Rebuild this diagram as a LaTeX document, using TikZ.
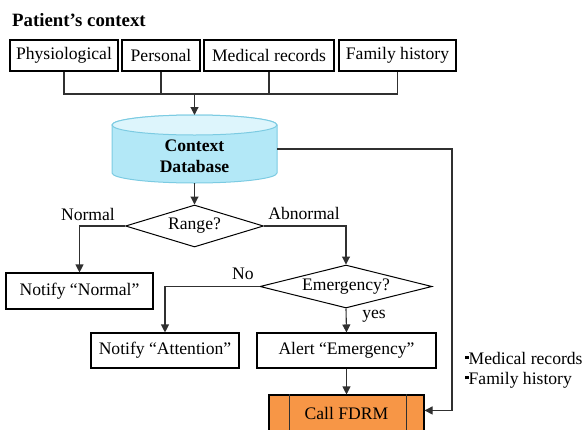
\documentclass[tikz,border=0pt]{standalone}
\usepackage{fontspec}
\setmainfont{Liberation Serif}
\usetikzlibrary{arrows.meta,shapes.geometric}
\definecolor{dbfill}{HTML}{B3E8F7}
\definecolor{dbtop}{HTML}{DDF5FC}
\definecolor{dbline}{HTML}{7CCBE2}
\definecolor{fdrmfill}{HTML}{F79646}
\definecolor{conn}{HTML}{303030}
\begin{document}
\begin{tikzpicture}[x=1pt,y=-1pt,
  every node/.style={font=\fontsize{17.6}{20}\selectfont},
  box/.style={draw=black,line width=1.1pt,rectangle,inner sep=0pt,minimum height=31pt},
  dec/.style={draw=black,line width=1pt,diamond,inner sep=0pt,aspect=3.3},
  line/.style={draw=conn,line width=1.1pt},
  arr/.style={line,-{Triangle[length=8pt,width=8pt]}},
  lbl/.style={inner sep=0pt}
]
\useasboundingbox (0,0) rectangle (587,429);
\clip (0,0) rectangle (587,429);

\node[lbl,anchor=west,font=\fontsize{18.8}{20}\selectfont\bfseries] (title) at (12,20) {Patient’s context};

\node[box,minimum width=108pt] (b1) at (64,55.5) {Physiological};
\node[box,minimum width=78pt] (b2) at (161,55.5) {Personal};
\node[box,minimum width=130pt] (b3) at (269,55.5) {Medical records};
\node[box,minimum width=117pt] (b4) at (397.5,55.5) {Family history};

\coordinate (j) at (194.5,94);
\draw[line] (b1.south) |- (j) -| (b4.south);
\draw[line] (b2.south) -- (b2.south |- j);
\draw[line] (b3.south) -- (b3.south |- j);

% database cylinder
\coordinate (dbt) at (194.5,115);
\coordinate (dbb) at (194.5,183);
\coordinate (dbr) at (277,149);
\filldraw[fill=dbfill,draw=dbline,line width=1pt]
  (112,125) -- (112,173) arc[start angle=180,end angle=360,x radius=82.5,y radius=-10]
  -- (277,125) arc[start angle=0,end angle=180,x radius=82.5,y radius=-10] -- cycle;
\filldraw[fill=dbtop,draw=dbline,line width=1pt] (194.5,125) ellipse[x radius=82.5,y radius=10];
\node[lbl,align=center,font=\fontsize{17.6}{21}\selectfont\bfseries] (db) at (194.5,156) {Context\\Database};
\draw[arr] (j) -- (dbt);

% decisions
\node[dec,minimum width=138pt,minimum height=42pt] (range) at (194.5,226) {Range?};
\draw[arr] (dbb) -- (range.north);

\node[box,minimum width=147pt,minimum height=36pt] (norm) at (79.5,291) {Notify “Normal”};
\node[dec,minimum width=172pt,minimum height=43pt] (emerg) at (346,286.5) {Emergency?};

\draw[arr] (range.west) -| (norm.north);
\draw[arr] (range.east) -| (emerg.north);
\node[lbl] (lnormal) at (88,214) {Normal};
\node[lbl] (labn) at (304,213) {Abnormal};

\node[box,minimum width=148pt,minimum height=35pt] (att) at (165,350.5) {Notify “Attention”};
\node[box,minimum width=179pt,minimum height=35pt] (alert) at (346.5,350.5) {Alert “Emergency”};
\draw[arr] (emerg.west) -| (att.north);
\draw[arr] (emerg.south) -- (alert.north);
\node[lbl] (lno) at (243,274) {No};
\node[lbl] (lyes) at (374,316) {yes};

% Call FDRM
\node[box,fill=fdrmfill,minimum width=155pt,minimum height=40pt] (fdrm) at (346.5,415) {\raisebox{4pt}{Call FDRM}};
\draw[line,line width=1pt] (289,394) -- (289,436);
\draw[line,line width=1pt] (406,394) -- (406,436);
\draw[arr] (alert.south) -- (fdrm.north);

\coordinate (c1) at (452,149);
\draw[arr] (dbr) -- (c1) |- ([yshift=-16pt]fdrm.north east);

% bullet list
\node[lbl,anchor=west] (bl1) at (465,358) {\rule[0.28em]{3.5pt}{3.5pt}Medical records};
\node[lbl,anchor=west] (bl2) at (465,380) {\rule[0.28em]{3.5pt}{3.5pt}Family history};
\end{tikzpicture}
\end{document}
